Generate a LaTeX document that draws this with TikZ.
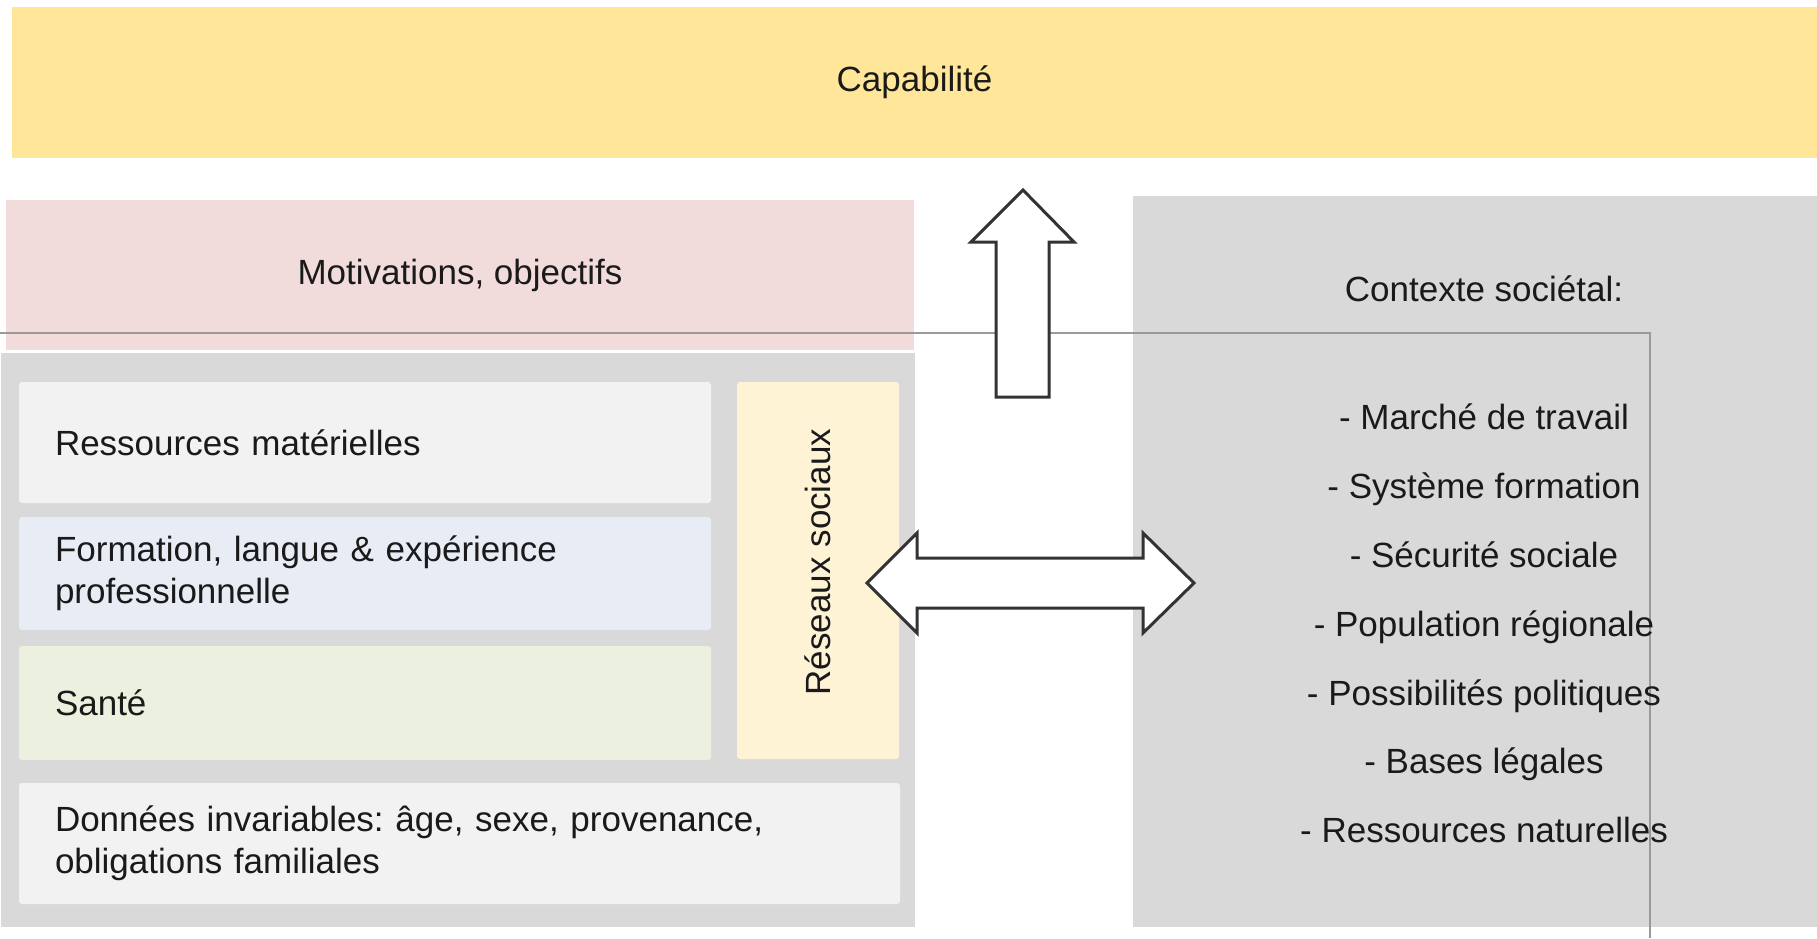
\documentclass[tikz,border=0pt]{standalone}
\usepackage{fontspec}
\setmainfont{Liberation Sans}
\frenchspacing
\definecolor{capY}{HTML}{FFE699}
\definecolor{motP}{HTML}{F2DCDB}
\definecolor{grayBg}{HTML}{D9D9D9}
\definecolor{boxGray}{HTML}{F2F2F2}
\definecolor{boxBlue}{HTML}{E7ECF5}
\definecolor{boxGreen}{HTML}{EBF1DE}
\definecolor{boxYel}{HTML}{FFF3D6}
\definecolor{lineGray}{HTML}{9A9A9A}
\definecolor{txt}{HTML}{1A1A1A}
\definecolor{arrEdge}{HTML}{333333}
\begin{document}
\begin{tikzpicture}[x=0.5pt,y=-0.5pt,
  every node/.style={font=\fontsize{17.5pt}{21pt}\selectfont, text=txt},
  band/.style={rectangle, inner sep=0pt, outer sep=0pt, draw=none},
  leftbox/.style={rectangle, rounded corners=1.5pt, draw=none, inner ysep=0pt, inner xsep=18pt, outer sep=0pt, align=left},
  blockarrow/.style={draw=arrEdge, fill=white, line width=1.5pt, line join=miter},
  sepline/.style={draw=lineGray, line width=1.1pt}
]
\useasboundingbox (0,0) rectangle (1817,938);
% top band
\node[band, fill=capY, minimum width=902.5pt, minimum height=75.5pt] (cap) at (914.5,82.5) {Capabilité};
% motivations
\node[band, fill=motP, minimum width=454pt, minimum height=75pt] (mot) at (460,275) {Motivations, objectifs};
% outer gray container
\node[band, fill=grayBg, minimum width=457pt, minimum height=287pt] (outer) at (458,640) {};
% inner boxes
\node[leftbox, fill=boxGray, minimum width=346pt, minimum height=60.5pt, text width=310pt] (res) at (365,442.5) {Ressources matérielles};
\node[leftbox, fill=boxBlue, minimum width=346pt, minimum height=56.5pt, text width=310pt] (form) at (365,573.5) {Formation, langue \& expérience\\professionnelle};
\node[leftbox, fill=boxGreen, minimum width=346pt, minimum height=57pt, text width=310pt] (sante) at (365,703) {Santé};
\node[leftbox, fill=boxGray, minimum width=440.5pt, minimum height=60.5pt, text width=404.5pt] (donnees) at (459.5,843.5) {Données invariables: âge, sexe, provenance,\\obligations familiales};
\node[band, rounded corners=1.5pt, fill=boxYel, minimum width=81pt, minimum height=188.5pt] (reseaux) at (818,570.5) {};
\node[rotate=90, inner sep=0pt] (reseauxlbl) at (818,562) {Réseaux sociaux};
% context box
\node[band, fill=grayBg, minimum width=342pt, minimum height=365.5pt] (ctx) at (1475,561.5) {};
% separator line
\draw[sepline] (0,333) -- (1650,333) -- (1650,938);
% context texts
\node[anchor=base] (ctxt) at (1484,301) {Contexte sociétal:};
\node[anchor=base] (c1) at (1484,429) {- Marché de travail};
\node[anchor=base] (c2) at (1484,498) {- Système formation};
\node[anchor=base] (c3) at (1484,567) {- Sécurité sociale};
\node[anchor=base] (c4) at (1484,636) {- Population régionale};
\node[anchor=base] (c5) at (1484,705) {- Possibilités politiques};
\node[anchor=base] (c6) at (1484,773) {- Bases légales};
\node[anchor=base] (c7) at (1484,842) {- Ressources naturelles};
% block arrows
\draw[blockarrow] (996,397) -- (996,242) -- (971,242) -- (1023,190) -- (1074,242) -- (1049,242) -- (1049,397) -- cycle;
\draw[blockarrow] (867,583) -- (917,533) -- (917,558) -- (1143,558) -- (1143,533) -- (1194,583) -- (1143,633) -- (1143,608) -- (917,608) -- (917,633) -- cycle;
\end{tikzpicture}
\end{document}
